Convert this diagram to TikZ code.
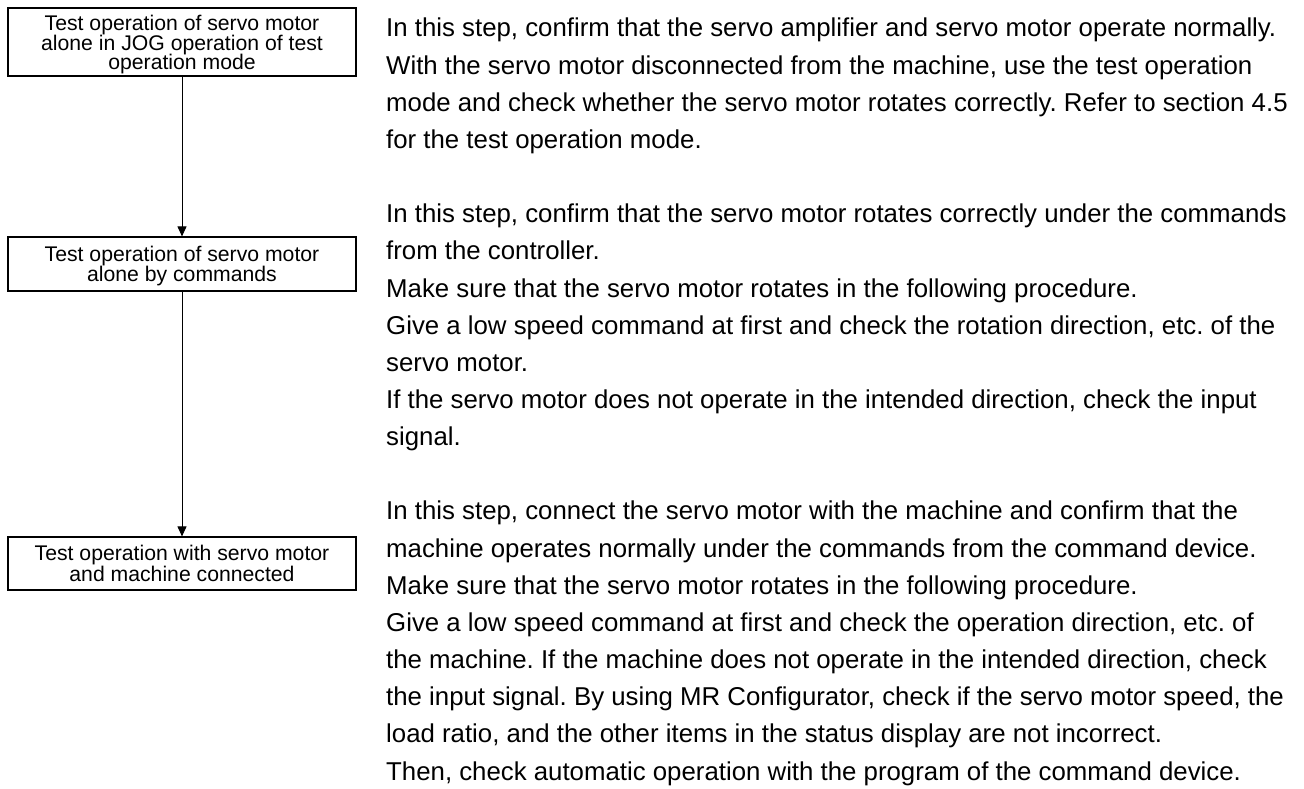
\documentclass[tikz,border=0pt]{standalone}
\usepackage{fontspec}
\setmainfont{Liberation Sans}
\usetikzlibrary{arrows.meta}
\frenchspacing
\tikzset{
  stepbox/.style={draw=black, line width=1.2pt, minimum width=348pt, inner sep=0pt, fill=white},
  boxtxt/.style={anchor=base, inner sep=0pt, font=\fontsize{21.2}{21}\selectfont},
  para/.style={anchor=base west, inner sep=0pt, font=\fontsize{25.8}{30}\selectfont},
  flow/.style={line width=1pt, -{Triangle[length=10pt,width=9pt]}}
}
\begin{document}
\begin{tikzpicture}[x=1pt,y=-1pt]
\path[use as bounding box, fill=white] (0,0) rectangle (1304,789);
% boxes
\node[stepbox, minimum height=68pt] (b1) at (182,42) {};
\node[stepbox, minimum height=54pt] (b2) at (182,264) {};
\node[stepbox, minimum height=53pt] (b3) at (182,563.5) {};
% box texts
\node[boxtxt] (t1a) at (182,31) {Test operation of servo motor};
\node[boxtxt] (t1b) at (182,50.5) {alone in JOG operation of test};
\node[boxtxt] (t1c) at (182,70) {operation mode};
\node[boxtxt] (t2a) at (182,261.5) {Test operation of servo motor};
\node[boxtxt] (t2b) at (182,281.5) {alone by commands};
\node[boxtxt] (t3a) at (182,560.5) {Test operation with servo motor};
\node[boxtxt] (t3b) at (182,581) {and machine connected};
% connectors
\draw[flow] (b1.south) -- (b2.north);
\draw[flow] (b2.south) -- (b3.north);
% paragraph 1
\node[para] (p1) at (386,37) {In this step, confirm that the servo amplifier and servo motor operate normally.};
\node[para] (p2) at (386,74.15) {With the servo motor disconnected from the machine, use the test operation};
\node[para] (p3) at (386,111.3) {mode and check whether the servo motor rotates correctly. Refer to section 4.5};
\node[para] (p4) at (386,148.45) {for the test operation mode.};
% paragraph 2
\node[para] (q1) at (386,222.75) {In this step, confirm that the servo motor rotates correctly under the commands};
\node[para] (q2) at (386,259.9) {from the controller.};
\node[para] (q3) at (386,297.05) {Make sure that the servo motor rotates in the following procedure.};
\node[para] (q4) at (386,334.2) {Give a low speed command at first and check the rotation direction, etc. of the};
\node[para] (q5) at (386,371.35) {servo motor.};
\node[para] (q6) at (386,408.5) {If the servo motor does not operate in the intended direction, check the input};
\node[para] (q7) at (386,445.65) {signal.};
% paragraph 3
\node[para] (r1) at (386,519.95) {In this step, connect the servo motor with the machine and confirm that the};
\node[para] (r2) at (386,557.1) {machine operates normally under the commands from the command device.};
\node[para] (r3) at (386,594.25) {Make sure that the servo motor rotates in the following procedure.};
\node[para] (r4) at (386,631.4) {Give a low speed command at first and check the operation direction, etc. of};
\node[para] (r5) at (386,668.55) {the machine. If the machine does not operate in the intended direction, check};
\node[para] (r6) at (386,705.7) {the input signal. By using MR Configurator, check if the servo motor speed, the};
\node[para] (r7) at (386,742.85) {load ratio, and the other items in the status display are not incorrect.};
\node[para] (r8) at (386,780) {Then, check automatic operation with the program of the command device.};
\end{tikzpicture}
\end{document}
